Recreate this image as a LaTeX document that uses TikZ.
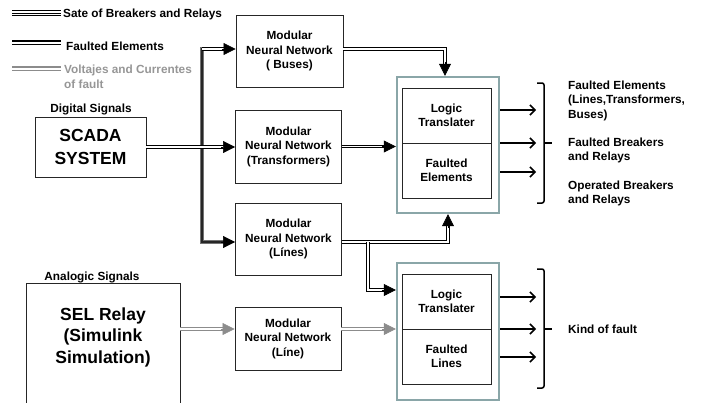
\documentclass[tikz,border=0pt]{standalone}
\usepackage{fontspec}
\setmainfont{Liberation Sans}
\usetikzlibrary{arrows.meta,calc}
\definecolor{obc}{RGB}{138,166,168}
\definecolor{gline}{RGB}{140,140,140}
\definecolor{gtext}{RGB}{150,150,150}
\begin{document}
\begin{tikzpicture}[x=1pt,y=-1pt,
  txt/.style={font=\bfseries\fontsize{11.8}{14.5}\selectfont, align=center, inner sep=0pt},
  big/.style={font=\bfseries\fontsize{17.5}{22.5}\selectfont, align=center, inner sep=0pt},
  box/.style={draw=black!85, line width=0.9pt, txt},
  outer/.style={draw=obc, line width=2.4pt, inner sep=0pt},
  dbl/.style={draw=black, line width=0.9pt, double=white, double distance=1.5pt, line join=miter},
  gdbl/.style={draw=gline, line width=1.2pt, double=white, double distance=1.5pt},
  bus/.style={draw=black!55, line width=4.5pt},
  buscore/.style={draw=black!85, line width=1.5pt},
  tipk/.style={arrows={-Triangle[length=12pt,width=12pt]}, draw=black, line width=0.6pt},
  tipg/.style={arrows={-Triangle[length=12pt,width=12pt]}, draw=gline, line width=0.6pt},
  outarr/.style={arrows={-Straight Barb[length=5pt,width=10pt]}, line width=1.5pt},
  brk/.style={line width=1.5pt, rounded corners=2pt}
]
\clip (0,0) rectangle (701,402);

% legend
\draw[line width=1.2pt] (12,10.8) -- (61,10.8);
\draw[line width=1.2pt] (12,13.2) -- (61,13.2);
\draw[line width=1.2pt] (12,15.6) -- (61,15.6);
\draw[line width=1.6pt] (12,41.2) -- (61,41.2);
\draw[line width=1.6pt] (12,44.4) -- (61,44.4);
\draw[line width=1.6pt, gline] (12,67.2) -- (61,67.2);
\draw[line width=1.6pt, gline] (12,70.4) -- (61,70.4);
\node[txt, anchor=west] (lg1) at (63,14) {Sate of Breakers and Relays};
\node[txt, anchor=west] (lg2) at (66,46) {Faulted Elements};
\node[txt, anchor=west, align=left, text=gtext] (lg3) at (64,77) {Voltajes and Currentes\\of fault};

% left side
\node[txt] (dig) at (91,109) {Digital Signals};
\node[box, big, minimum width=111pt, minimum height=60pt] (scada) at (90.5,147) {SCADA\\SYSTEM};
\node[txt] (ana) at (92,277) {Analogic Signals};
\node[draw=black!85, line width=0.9pt, minimum width=154pt, minimum height=130pt, inner sep=0pt] (sel) at (103,348) {};
\node[big, font=\bfseries\fontsize{17.5}{21.5}\selectfont] (selt) at (103,337) {SEL Relay\\(Simulink\\Simulation)};

% neural networks
\node[box, minimum width=107pt, minimum height=72pt] (buses) at (289.5,51) {Modular\\Neural Network\\( Buses)};
\node[box, minimum width=106pt, minimum height=73pt] (tr) at (288.5,146.5) {Modular\\Neural Network\\(Transformers)};
\node[box, minimum width=106pt, minimum height=72pt] (lines) at (288.5,239) {Modular\\Neural Network\\(Línes)};
\node[box, minimum width=106pt, minimum height=63pt] (an) at (288,338.5) {Modular\\Neural Network\\(Líne)};

% right blocks
\node[outer, minimum width=102pt, minimum height=136pt] (ob1) at (448,145) {};
\node[box, minimum width=89pt, minimum height=55pt] (lt1) at (446.5,115.5) {Logic\\Translater};
\node[box, minimum width=89pt, minimum height=55pt] (fe1) at (446.5,170.5) {Faulted\\Elements};
\node[outer, minimum width=102pt, minimum height=137pt] (ob2) at (448,331.5) {};
\node[box, minimum width=89pt, minimum height=55pt] (lt2) at (446.5,301.5) {Logic\\Translater};
\node[box, minimum width=89pt, minimum height=55pt] (fl2) at (446.5,356.5) {Faulted\\Lines};

% output texts
\node[txt, anchor=west, align=left] (r1) at (568,100.5) {Faulted Elements\\(Lines,Transformers,\\Buses)};
\node[txt, anchor=west, align=left] (r2) at (568,150.5) {Faulted Breakers\\and Relays};
\node[txt, anchor=west, align=left] (r3) at (568,193.5) {Operated Breakers\\and Relays};
\node[txt, anchor=west] (r4) at (568,329) {Kind of fault};

% bus
\coordinate (bt) at (202,49);
\coordinate (bb) at (202,242);
\draw[bus] (202,47) -- (bb) -- ([xshift=-11pt]bb -| lines.west);
\draw[buscore] (202,47.5) -- (bb) -- ([xshift=-11pt]bb -| lines.west);
\draw[tipk] ([xshift=-14pt]bb -| lines.west) -- (bb -| lines.west);
\draw[dbl, shorten >=11pt] (bt) -- (bt -| buses.west);
\draw[tipk] ([xshift=-14pt]bt -| buses.west) -- (bt -| buses.west);

% SCADA -> transformers
\draw[dbl, shorten >=11pt] (scada.east) -- (scada.east -| tr.west);
\draw[tipk] ([xshift=-14pt]scada.east -| tr.west) -- (scada.east -| tr.west);

% buses -> ob1 top
\coordinate (ob1top) at ([xshift=-3pt]ob1.north);
\draw[dbl, shorten >=11pt] (bt -| buses.east) -| (ob1top);
\draw[tipk] ([yshift=14pt]ob1top) -- (ob1top);

% transformers -> ob1 left
\draw[dbl, shorten >=11pt] (tr.east) -- (tr.east -| ob1.west);
\draw[tipk] ([xshift=-14pt]tr.east -| ob1.west) -- (tr.east -| ob1.west);

% lines -> ob1 bottom and ob2 left
\coordinate (lo) at (lines.east |- bb);
\draw[dbl, shorten >=11pt] (lo) -| (ob1.south);
\draw[tipk] ([yshift=-14pt]ob1.south) -- (ob1.south);
\coordinate (br) at (368,242);
\coordinate (b2in) at ([yshift=41.5pt]ob2.west);
\draw[dbl, shorten >=11pt] (br) |- (b2in);
\draw[tipk] ([xshift=-14pt]b2in) -- (b2in);

% analog path
\coordinate (aIn) at ([yshift=9.5pt]an.west);
\draw[gdbl, shorten >=11pt] (sel.east |- aIn) -- (aIn);
\draw[tipg] ([xshift=-14pt]aIn) -- (aIn);
\coordinate (b2g) at ([yshift=2.5pt]ob2.west);
\draw[gdbl, shorten >=11pt] (an.east |- b2g) -- (b2g);
\draw[tipg] ([xshift=-14pt]b2g) -- (b2g);

% output arrows
\coordinate (u1) at (536,110);
\coordinate (u2) at (536,143);
\coordinate (u3) at (536,172);
\draw[outarr] (ob1.east |- u1) -- (u1);
\draw[outarr] (ob1.east |- u2) -- (u2);
\draw[outarr] (ob1.east |- u3) -- (u3);
\coordinate (d1) at (536,297);
\coordinate (d2) at (536,329);
\coordinate (d3) at (536,357);
\draw[outarr] (ob2.east |- d1) -- (d1);
\draw[outarr] (ob2.east |- d2) -- (d2);
\draw[outarr] (ob2.east |- d3) -- (d3);

% brackets
\draw[brk] (537,83) -- (544,83) -- (544,203) -- (537,203);
\draw[line width=1.5pt] (544,143) -- (552,143);
\draw[brk] (537,269) -- (544,269) -- (544,388) -- (537,388);
\draw[line width=1.5pt] (544,329) -- (552,329);
\end{tikzpicture}
\end{document}
